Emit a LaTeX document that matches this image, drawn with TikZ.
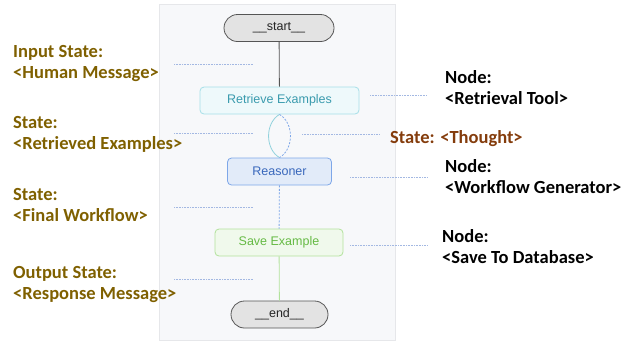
\documentclass[tikz,border=0pt]{standalone}
\usepackage{fontspec}
\setmainfont{Carlito}
\newfontfamily\uifont{Liberation Sans}
\usetikzlibrary{positioning}
\definecolor{panelbg}{HTML}{F7F8FA}
\definecolor{panelline}{HTML}{E6E7EA}
\definecolor{termfill}{HTML}{E3E3E3}
\definecolor{termline}{HTML}{555555}
\definecolor{retfill}{HTML}{EEF9FB}
\definecolor{retline}{HTML}{A6DFE8}
\definecolor{rettext}{HTML}{3A9BAE}
\definecolor{reafill}{HTML}{E2EBF9}
\definecolor{realine}{HTML}{7EA7E8}
\definecolor{reatext}{HTML}{3A68BC}
\definecolor{savfill}{HTML}{F0F9EC}
\definecolor{savline}{HTML}{B2E29C}
\definecolor{savtext}{HTML}{66BA45}
\definecolor{leader}{HTML}{A3B8E2}
\definecolor{statecol}{HTML}{7F6000}
\definecolor{thoughtcol}{HTML}{843C0C}
\tikzstyle{term} = [draw=termline,fill=termfill,line width=0.8pt,rounded corners=13.5pt,
  minimum height=27pt,font=\uifont\fontsize{12.5}{14}\selectfont,text=black!85]
\tikzstyle{step box} = [line width=0.8pt,rounded corners=4pt,minimum height=27pt,
  font=\uifont\fontsize{12.5}{14}\selectfont]
\tikzstyle{lbl} = [inner sep=0pt,align=left,anchor=north west,
  font=\bfseries\fontsize{18.5}{21}\selectfont]
\tikzstyle{leaderline} = [leader,densely dotted,line width=0.6pt]

\begin{document}
\begin{tikzpicture}[x=1pt,y=-1pt]
            % frame
            \useasboundingbox (0,0) rectangle (631,341);
            \draw [panelline,fill=panelbg,line width=0.8pt] (159,4) rectangle (395,340);
            % graph nodes
            \node[term,minimum width=110pt] (start) at (279,28) {\_\_start\_\_};
            \node[step box,draw=retline,fill=retfill,text=rettext,minimum width=159pt] (ret) at (279.5,100.5) {Retrieve Examples};
            \node[step box,draw=realine,fill=reafill,text=reatext,minimum width=104pt] (rea) at (279.5,171.5) {Reasoner};
            \node[step box,draw=savline,fill=savfill,text=savtext,minimum width=128pt] (sav) at (279,242.5) {Save Example};
            \node[term,minimum width=97pt] (end) at (279.5,314.5) {\_\_end\_\_};
            % edges
            \draw [termline,line width=0.8pt] (start) -- (ret);
            \draw [retline!80!rettext,line width=0.8pt] (ret.south) to[bend right=60] (rea.north);
            \draw [realine,dashed,dash pattern=on 2pt off 1.5pt,line width=0.8pt] (ret.south) to[bend left=60] (rea.north);
            \draw [realine,dashed,dash pattern=on 2pt off 1.5pt,line width=0.8pt] (rea) -- (sav);
            \draw [savline,line width=0.8pt] (sav) -- (end);
            % leaders
            \foreach \y in {64,133,207,279}
              \draw [leaderline] (174,\y) -- (253,\y);
            \draw [leaderline] (370,95) -- (427,95);
            \draw [leaderline] (302,134) -- (380,134);
            \draw [leaderline] (350,177) -- (428,177);
            \draw [leaderline] (350,245) -- (428,245);
            % state labels
            \node[lbl,text=statecol] (sin) at (13,45) {Input State:\\<Human Message>};
            \node[lbl,text=statecol] (sret) at (13,116) {State:\\<Retrieved Examples>};
            \node[lbl,text=statecol] (sfin) at (13,188) {State:\\<Final Workflow>};
            \node[lbl,text=statecol] (sout) at (13,266) {Output State:\\<Response Message>};
            \node[lbl,text=thoughtcol] (sth) at (390,130) {State: <Thought>};
            % node labels
            \node[lbl] (ntool) at (445,70) {Node:\\<Retrieval Tool>};
            \node[lbl] (ngen) at (445,159) {Node:\\<Workflow Generator>};
            \node[lbl] (ndb) at (442,229) {Node:\\<Save To Database>};
\end{tikzpicture}
\end{document}
